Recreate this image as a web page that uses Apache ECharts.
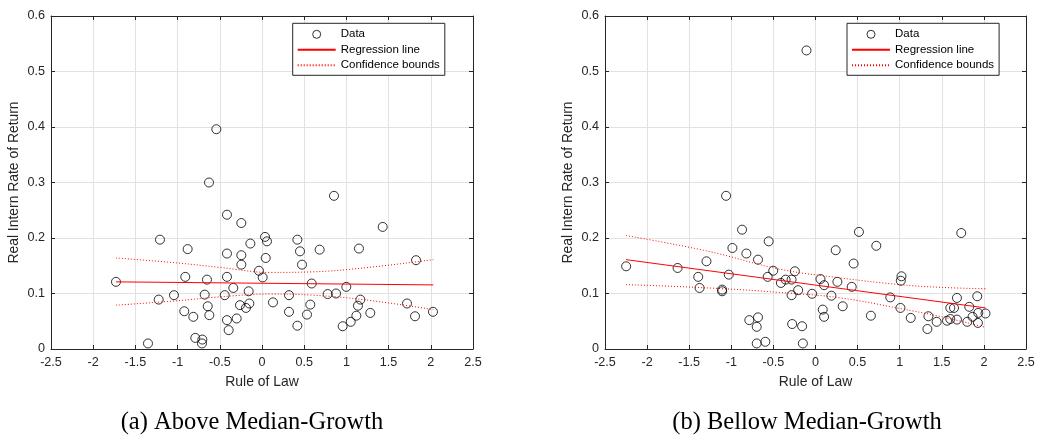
<!DOCTYPE html>
<html>
<head>
<meta charset="utf-8">
<script src="https://cdn.jsdelivr.net/npm/echarts@6/dist/echarts.min.js"></script>
<style>
  html, body { margin: 0; padding: 0; background: #ffffff; }
  #chart { width: 1040px; height: 440px; }
</style>
</head>
<body>
<div id="chart"></div>
<script>
// ---- Above median-growth sample ----
const aboveX = [-0.628, -0.541, -0.415, -0.245, 0.036, 0.059, -0.138, -1.209, -0.881, -0.415,
  -0.245, 0.044, -0.245, -0.036, 0.008, -1.730, -0.909, -0.652, -0.415, -0.340,
  -0.158, -1.224, -1.043, -0.679, -0.442, 0.320, -0.643, -0.261, -0.150, -0.190,
  0.130, -0.921, -0.814, -0.624, -0.415, -0.300, -0.395, 0.320, -0.790, -0.707,
  -0.711, -1.351, 0.853, 1.430, 0.419, 0.450, 0.683, 1.149, 0.474, 1.825,
  0.589, 0.999, 0.778, 0.877, 0.572, 1.165, 1.137, 1.718, 0.533, 1.118,
  1.283, 1.813, 2.026, 0.419, 0.956, 1.051];
const aboveY = [0.300, 0.396, 0.242, 0.227, 0.202, 0.194, 0.190, 0.197, 0.180, 0.172,
  0.169, 0.164, 0.152, 0.141, 0.129, 0.121, 0.130, 0.125, 0.130, 0.110,
  0.104, 0.089, 0.097, 0.098, 0.097, 0.097, 0.077, 0.079, 0.082, 0.074,
  0.084, 0.068, 0.058, 0.061, 0.052, 0.055, 0.034, 0.067, 0.020, 0.017,
  0.010, 0.010, 0.276, 0.220, 0.197, 0.176, 0.179, 0.181, 0.152, 0.160,
  0.118, 0.112, 0.099, 0.100, 0.080, 0.089, 0.078, 0.082, 0.062, 0.060,
  0.065, 0.059, 0.067, 0.042, 0.041, 0.049];
const aboveFitX = [-1.73, 2.03];
const aboveFitY = [0.121, 0.1155];
const aboveBandX = [-1.73, -1.0, -0.5, 0.1, 0.6, 1.2, 2.03];
const aboveUpper = [0.164, 0.155, 0.147, 0.138, 0.139, 0.146, 0.161];
const aboveLower = [0.079, 0.087, 0.094, 0.099, 0.097, 0.089, 0.071];

// ---- Below median-growth sample ----
const belowX = [-0.107, -2.249, -1.638, -1.393, -1.295, -1.377, -1.062, -0.987, -0.872, -0.821,
  -0.683, -0.556, -1.030, -1.109, -1.109, -0.568, -0.502, -0.411, -0.355, -0.786,
  -0.683, -0.698, -0.698, -0.596, -0.284, -0.245, -0.284, -0.206, -0.277, -0.159,
  -0.150, -0.040, 0.059, 0.102, 0.086, 0.102, 0.189, 0.260, 0.240, 0.323,
  0.430, 0.453, 0.516, 0.658, 0.722, 0.888, 1.021, 1.013, 1.009, 1.131,
  1.341, 1.329, 1.439, 1.562, 1.601, 1.601, 1.645, 1.680, 1.680, 1.731,
  1.802, 1.826, 1.865, 1.921, 1.933, 1.929, 2.019];
const belowY = [0.538, 0.149, 0.146, 0.130, 0.158, 0.110, 0.276, 0.182, 0.215, 0.172,
  0.161, 0.194, 0.134, 0.107, 0.104, 0.130, 0.141, 0.119, 0.125, 0.052,
  0.057, 0.040, 0.010, 0.013, 0.125, 0.140, 0.097, 0.106, 0.045, 0.041,
  0.010, 0.0995, 0.126, 0.115, 0.071, 0.058, 0.096, 0.121, 0.178, 0.077,
  0.112, 0.154, 0.211, 0.060, 0.186, 0.093, 0.131, 0.123, 0.074, 0.056,
  0.059, 0.036, 0.049, 0.051, 0.054, 0.074, 0.074, 0.092, 0.053, 0.209,
  0.049, 0.076, 0.058, 0.095, 0.065, 0.047, 0.064];
const belowFitX = [-2.25, 2.02];
const belowFitY = [0.161, 0.074];
const belowBandX = [-2.25, -1.27, -0.43, 0.3, 1.0, 1.5, 2.02];
const belowUpper = [0.2045, 0.176, 0.144, 0.128, 0.116, 0.111, 0.1085];
const belowLower = [0.116, 0.110, 0.102, 0.092, 0.073, 0.058, 0.039];

// ---- Axes, labels, captions ----
const xRange = [-2.5, 2.5, 0.5];
const yRange = [0, 0.6, 0.1];
const xTitle = 'Rule of Law';
const yTitle = 'Real Intern Rate of Return';
const legendNames = ['Data', 'Regression line', 'Confidence bounds'];
const captions = ['(a) Above Median-Growth', '(b) Bellow Median-Growth'];

const SANS = '"Liberation Sans", Arial, Helvetica, sans-serif';
const SERIF = '"Liberation Serif", "Times New Roman", serif';
const AXC = '#262626';
const GRIDC = '#e2e2e2';
const RED = '#ff0000';

const zip = (xs, ys) => xs.map((x, i) => [x, ys[i]]);

const panels = [
  { left: 51, width: 422, xs: aboveX, ys: aboveY, fx: aboveFitX, fy: aboveFitY,
    bx: aboveBandX, up: aboveUpper, lo: aboveLower, legendLeft: 292.7, capX: 252 },
  { left: 605, width: 421, xs: belowX, ys: belowY, fx: belowFitX, fy: belowFitY,
    bx: belowBandX, up: belowUpper, lo: belowLower, legendLeft: 847, capX: 807 }
];

// legend entries: open circle for the data, bare strokes for the lines
const legendItems = [
  { name: legendNames[0], itemStyle: { color: 'rgba(0,0,0,0)', borderColor: '#000000', borderWidth: 1 } },
  { name: legendNames[1], itemStyle: { opacity: 0 } },
  { name: legendNames[2], itemStyle: { opacity: 0 } }
];

const grid = [], xAxis = [], yAxis = [], series = [], legend = [], graphic = [];

panels.forEach((p, i) => {
  grid.push({ left: p.left, top: 16, width: p.width, height: 333 });
  const tick = { show: true, inside: true, length: 4, lineStyle: { color: AXC, width: 1 } };
  const line = { show: true, onZero: false, lineStyle: { color: AXC, width: 1 } };
  xAxis.push({
    gridIndex: i, type: 'value', position: 'bottom',
    min: xRange[0], max: xRange[1], interval: xRange[2],
    axisLine: line, axisTick: tick,
    axisLabel: { color: AXC, fontSize: 12.6, fontFamily: SANS, margin: 7, showMinLabel: true, showMaxLabel: true },
    splitLine: { show: true, lineStyle: { color: GRIDC, width: 1 } },
    name: xTitle, nameLocation: 'middle', nameGap: 26,
    nameTextStyle: { color: AXC, fontSize: 13.9, fontFamily: SANS }
  });
  xAxis.push({
    gridIndex: i, type: 'value', position: 'top',
    min: xRange[0], max: xRange[1], interval: xRange[2],
    axisLine: line, axisTick: tick, axisLabel: { show: false }, splitLine: { show: false }
  });
  yAxis.push({
    gridIndex: i, type: 'value', position: 'left',
    min: yRange[0], max: yRange[1], interval: yRange[2],
    axisLine: line, axisTick: tick,
    axisLabel: { color: AXC, fontSize: 12.6, fontFamily: SANS, margin: 6, showMinLabel: true, showMaxLabel: true },
    splitLine: { show: true, lineStyle: { color: GRIDC, width: 1 } },
    name: yTitle, nameLocation: 'middle', nameGap: 30,
    nameTextStyle: { color: AXC, fontSize: 13.9, fontFamily: SANS }
  });
  yAxis.push({
    gridIndex: i, type: 'value', position: 'right',
    min: yRange[0], max: yRange[1], interval: yRange[2],
    axisLine: line, axisTick: tick, axisLabel: { show: false }, splitLine: { show: false }
  });

  const xi = 2 * i, yi = 2 * i;
  series.push({
    name: legendNames[0], type: 'scatter', xAxisIndex: xi, yAxisIndex: yi,
    data: zip(p.xs, p.ys), symbol: 'circle', symbolSize: 9,
    itemStyle: { color: 'rgba(0,0,0,0)', borderColor: '#000000', borderWidth: 1 },
    emphasis: { disabled: true }, silent: true, z: 2
  });
  series.push({
    name: legendNames[1], type: 'line', xAxisIndex: xi, yAxisIndex: yi,
    data: zip(p.fx, p.fy), symbol: 'none',
    lineStyle: { color: RED, width: 1 }, itemStyle: { color: RED, opacity: 0 },
    silent: true, z: 3
  });
  [p.up, p.lo].forEach(b => {
    series.push({
      name: legendNames[2], type: 'line', xAxisIndex: xi, yAxisIndex: yi,
      data: zip(p.bx, b), symbol: 'none', smooth: 0.4,
      lineStyle: { color: RED, width: 1, type: [1, 2] }, itemStyle: { color: RED, opacity: 0 },
      silent: true, z: 3
    });
  });

  legend.push({
    data: legendItems, orient: 'vertical', left: p.legendLeft, top: 23.3,
    padding: [5, 5, 4, 4], itemGap: 3.5, itemWidth: 38, itemHeight: 8,
    backgroundColor: '#ffffff', borderColor: AXC, borderWidth: 1, borderRadius: 0,
    selectedMode: false,
    textStyle: { color: '#000000', fontSize: 11.5, fontFamily: SANS, lineHeight: 12 }
  });

  graphic.push({
    type: 'text', x: p.capX, y: 423,
    style: { text: captions[i], x: 0, y: 0, align: 'center', verticalAlign: 'middle',
      font: '24.5px ' + SERIF, fill: '#000000' }
  });
});

const chart = echarts.init(document.getElementById('chart'), null, { renderer: 'canvas' });
chart.setOption({
  animation: false,
  backgroundColor: '#ffffff',
  grid, xAxis, yAxis, series, legend, graphic
});
</script>
</body>
</html>
